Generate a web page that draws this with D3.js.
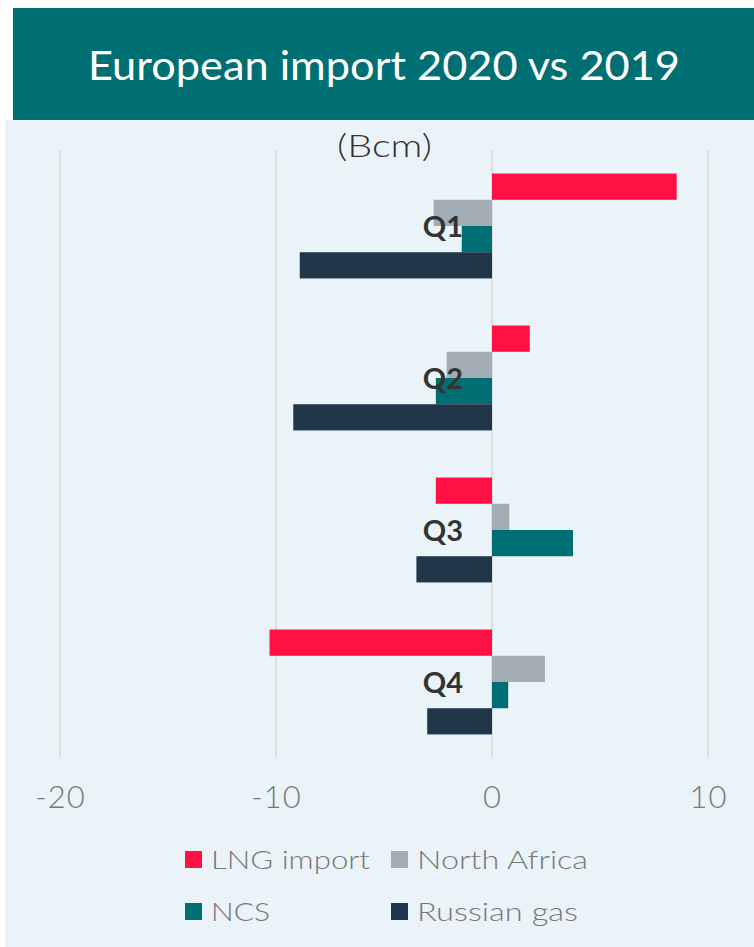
<!DOCTYPE html>
<html><head><meta charset="utf-8">
<script src="https://cdn.jsdelivr.net/npm/d3@7"></script>
<style>html,body{margin:0;padding:0;background:#fff;}</style>
</head><body>
<script>
const categories = ["Q1","Q2","Q3","Q4"];
const seriesNames = ["LNG import","North Africa","NCS","Russian gas"];
const lngImport   = [8.55, 1.75, -2.6, -10.3];
const northAfrica = [-2.7, -2.1, 0.8, 2.45];
const ncs         = [-1.4, -2.6, 3.75, 0.75];
const russianGas  = [-8.9, -9.2, -3.5, -3.0];
const xTicks = [-20, -10, 0, 10];
const colors = ["#FF1144", "#A1ACB5", "#006F73", "#22364A"];
const seriesValues = [lngImport, northAfrica, ncs, russianGas];

const W = 754, H = 947;
const svg = d3.select("body").append("svg").attr("width", W).attr("height", H);
const font = "Lato, 'Noto Sans', sans-serif";

svg.append("rect").attr("x", 5).attr("y", 120).attr("width", W - 5).attr("height", H - 120).attr("fill", "#EAF3F8");
svg.append("rect").attr("x", 13).attr("y", 8).attr("width", W - 13).attr("height", 112).attr("fill", "#006F73");
svg.append("text").attr("x", 384).attr("y", 80).attr("text-anchor", "middle")
  .attr("font-family", font).attr("font-weight", 400).attr("font-size", 41).attr("fill", "#fff")
  .attr("textLength", 592).attr("lengthAdjust", "spacingAndGlyphs").text("European import 2020 vs 2019");

const x = d3.scaleLinear().domain([-20, 10]).range([60, 708]);
const y = d3.scaleBand().domain(categories).range([150, 758]).paddingInner(0.31).paddingOuter(0.155);
const ys = d3.scaleBand().domain(seriesNames).range([0, y.bandwidth()]);

// gridlines
svg.append("g").selectAll("line").data(xTicks).join("line")
  .attr("x1", d => x(d)).attr("x2", d => x(d)).attr("y1", 150).attr("y2", 757)
  .attr("stroke", "#DCDFE0").attr("stroke-width", 2);

svg.append("text").attr("x", 384.5).attr("y", 157).attr("text-anchor", "middle")
  .attr("font-family", font).attr("font-weight", 300).attr("font-size", 32).attr("fill", "#333")
  .attr("textLength", 95).attr("lengthAdjust", "spacingAndGlyphs").text("(Bcm)");

const rows = [];
categories.forEach((c, i) => seriesNames.forEach((s, j) => rows.push({c, s, v: seriesValues[j][i], col: colors[j]})));
svg.append("g").selectAll("rect").data(rows).join("rect")
  .attr("x", d => x(Math.min(0, d.v))).attr("width", d => Math.abs(x(d.v) - x(0)))
  .attr("y", d => y(d.c) + ys(d.s)).attr("height", ys.bandwidth())
  .attr("fill", d => d.col);

// category labels
svg.append("g").selectAll("text").data(categories).join("text")
  .attr("x", 463).attr("y", d => y(d) + y.bandwidth() / 2 + 11).attr("text-anchor", "end")
  .attr("font-family", font).attr("font-weight", "bold").attr("font-size", 29).attr("fill", "#333").text(d => d);

// x axis tick labels
const ax = svg.append("g").attr("transform", "translate(0,808)")
  .call(d3.axisBottom(x).tickValues(xTicks).tickSize(0).tickPadding(0).tickFormat(d => String(d)));
ax.select(".domain").remove();
ax.selectAll("text").attr("font-family", font).attr("font-weight", 300).attr("font-size", 31).attr("fill", "#777")
  .attr("y", 0).attr("dy", 0).attr("letter-spacing", 1);

// legend
const legPos = [[185, 869], [391, 869], [185, 921], [391, 921]];
const legW = [159, 171, 59, 161];
const leg = svg.append("g").selectAll("g").data(seriesNames).join("g")
  .attr("transform", (d, i) => `translate(${legPos[i][0]},${legPos[i][1]})`);
leg.append("rect").attr("x", 0).attr("y", -18).attr("width", 17).attr("height", 17).attr("fill", (d, i) => colors[i]);
leg.append("text").attr("x", 26).attr("y", 0).attr("font-family", font).attr("font-weight", 300).attr("font-size", 26).attr("fill", "#777")
  .attr("textLength", (d, i) => legW[i]).attr("lengthAdjust", "spacingAndGlyphs").text(d => d);
</script>
</body></html>
